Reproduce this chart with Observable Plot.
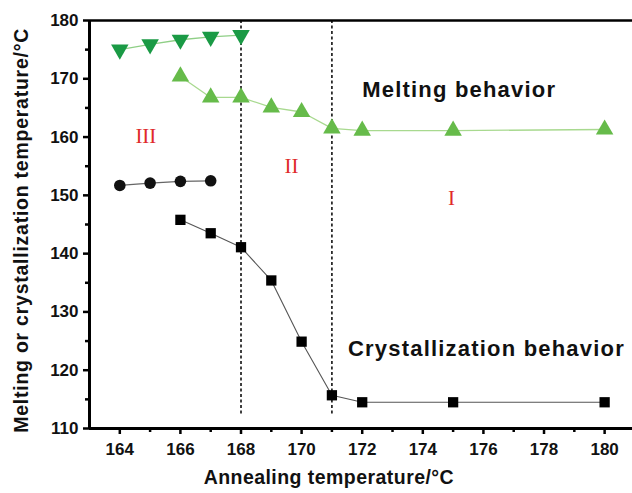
<!DOCTYPE html>
<html><head><meta charset="utf-8">
<script src="https://cdn.jsdelivr.net/npm/d3@7"></script>
<script src="https://cdn.jsdelivr.net/npm/@observablehq/plot@0.6"></script>
<style>
body{margin:0;background:#fff;}
svg{font-family:Arial,"Liberation Sans",sans-serif;}
</style>
</head><body>
<div id="chart"></div>
<script>
const tmHighX = [164,165,166,167,168];
const tmHighY = [175.0,175.9,176.7,177.2,177.5];
const tmLowX = [166,167,168,169,170,171,172,175,180];
const tmLowY = [170.4,166.8,166.8,165.1,164.3,161.5,161.1,161.1,161.3];
const tcHighX = [164,165,166,167];
const tcHighY = [151.7,152.1,152.4,152.5];
const tcLowX = [166,167,168,169,170,171,172,175,180];
const tcLowY = [145.8,143.5,141.1,135.4,124.9,115.7,114.5,114.5,114.5];
const boundaries = [168,171];
const xTicks = [164,166,168,170,172,174,176,178,180];
const xMinor = [165,167,169,171,173,175,177,179];
const yTicks = [110,120,130,140,150,160,170,180];
const yMinor = [115,125,135,145,155,165,175];
const regionLabels = ["III","II","I"];
const regionX = [164.86,169.67,174.95];
const regionY = [160.1,155.0,149.5];
const behaviorLabels = ["Melting behavior","Crystallization behavior"];
const behaviorX = [175.2,176.1];
const behaviorY = [168.0,123.7];
const xTitle = "Annealing temperature/°C";
const yTitle = "Melting or crystallization temperature/°C";

const zip = (xs, ys) => xs.map((x,i)=>({x, y: ys[i]}));
const tmHigh = zip(tmHighX, tmHighY);
const tmLow = zip(tmLowX, tmLowY);
const tcHigh = zip(tcHighX, tcHighY);
const tcLow = zip(tcLowX, tcLowY);
const regions = regionLabels.map((t,i)=>({t, x: regionX[i], y: regionY[i]}));
const behaviors = behaviorLabels.map((t,i)=>({t, x: behaviorX[i], y: behaviorY[i]}));

const chart = Plot.plot({
  width: 632, height: 493,
  marginLeft: 89, marginRight: 0, marginTop: 20, marginBottom: 65,
  x: {domain: [163, 180.92]},
  y: {domain: [110, 180]},
  style: {fontFamily: "Arial, 'Liberation Sans', sans-serif"},
  marks: [
    Plot.ruleX(boundaries, {y1: 180, y2: 112.5, stroke: "#111", strokeWidth: 1.6, strokeDasharray: "3,2.5"}),
    Plot.line(tmHigh, {x: "x", y: "y", stroke: "#8fcf86", strokeWidth: 1.3}),
    Plot.line(tmLow, {x: "x", y: "y", stroke: "#a8d98f", strokeWidth: 1.3}),
    Plot.line(tcHigh, {x: "x", y: "y", stroke: "#666", strokeWidth: 1.3}),
    Plot.line(tcLow, {x: "x", y: "y", stroke: "#555", strokeWidth: 1.1}),
    Plot.dot(tmHigh, {x: "x", y: "y", symbol: "triangle", rotate: 180, r: 6.5, fill: "#1a9a45"}),
    Plot.dot(tmLow, {x: "x", y: "y", symbol: "triangle", r: 6.5, fill: "#66bb4a"}),
    Plot.dot(tcHigh, {x: "x", y: "y", symbol: "circle", r: 5.8, fill: "#111"}),
    Plot.dot(tcLow, {x: "x", y: "y", symbol: "square", r: 5.8, fill: "#000"}),
    Plot.text(regions, {x: "x", y: "y", text: "t", fill: "#e02a2a", fontSize: 21, fontFamily: "'Liberation Serif', 'DejaVu Serif', serif"}),
    Plot.text(behaviors, {x: "x", y: "y", text: "t", fill: "#111", fontSize: 22, fontWeight: "bold"}),
    Plot.ruleY([180], {stroke: "#000", strokeWidth: 2.6}),
    Plot.ruleY([110], {stroke: "#000", strokeWidth: 3}),
    Plot.ruleX([163], {stroke: "#000", strokeWidth: 3}),
    Plot.axisX({ticks: xTicks, tickSize: 6, strokeWidth: 2.5, tickPadding: 8, fontSize: 17, fontWeight: "bold", fill: "#111", label: null, tickFormat: d => String(d)}),
    Plot.axisX({ticks: xMinor, tickSize: 4, strokeWidth: 2.5, text: null, label: null}),
    Plot.axisY({ticks: yTicks, tickSize: 6, strokeWidth: 2.5, tickPadding: 5, fontSize: 17, fontWeight: "bold", fill: "#111", label: null, tickFormat: d => String(d)}),
    Plot.axisY({ticks: yMinor, tickSize: 4, strokeWidth: 2.5, text: null, label: null}),
    Plot.text([xTitle], {x: 170.9, frameAnchor: "bottom", dy: 55, textAnchor: "middle", fontSize: 19.5, fontWeight: "bold", fill: "#111"}),
    Plot.text([yTitle], {y: 144, frameAnchor: "left", dx: -68, textAnchor: "middle", rotate: -90, fontSize: 19.5, fontWeight: "bold", fill: "#111"})
  ]
});
const spacing = new Map([
  [behaviorLabels[0], "1.2px"], [behaviorLabels[1], "1.2px"],
  [xTitle, "0.45px"], [yTitle, "0.75px"]
]);
d3.select(chart).selectAll("text").each(function() {
  const s = spacing.get(this.textContent);
  if (s) this.setAttribute("letter-spacing", s);
});
document.getElementById("chart").appendChild(chart);
</script>
</body></html>
